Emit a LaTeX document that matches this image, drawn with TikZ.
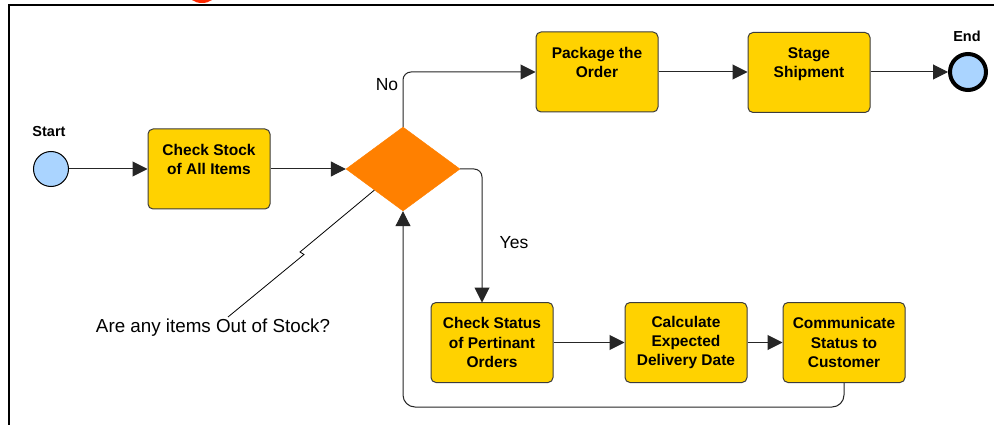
\documentclass[tikz,border=0pt]{standalone}
\usepackage{fontspec}
\setmainfont{Liberation Sans}
\usetikzlibrary{shapes.geometric,arrows.meta}
\definecolor{boxfill}{RGB}{255,210,0}
\definecolor{diafill}{RGB}{255,128,0}
\definecolor{evfill}{RGB}{170,212,255}
\definecolor{boxline}{RGB}{60,60,60}
\definecolor{topred}{RGB}{255,40,0}
\begin{document}
\begin{tikzpicture}[x=1pt,y=-1pt,
  task/.style={draw=boxline, line width=1pt, fill=boxfill, rounded corners=5pt,
    minimum width=122pt, minimum height=80pt, align=center, inner sep=0pt,
    font=\fontsize{15.5}{19.3}\selectfont\bfseries},
  event/.style={circle, draw=black, fill=evfill, inner sep=0pt},
  arr/.style={-{Triangle[length=15pt,width=15pt]}, line width=1pt, draw=black!85},
  lbl/.style={font=\fontsize{17.5}{20}\selectfont},
  evlbl/.style={font=\fontsize{14.5}{17}\selectfont\bfseries},
  frame/.style={line width=2pt, draw=black}
]
\useasboundingbox (0,0) rectangle (994,425);
\clip (0,0) rectangle (994,425);
\fill[white] (0,0) rectangle (994,425);
% frame and red mark
\fill[topred] (202,-7) ellipse [x radius=14, y radius=10];
\draw[frame] (8,5.5) -- (994,5.5);
\draw[frame] (9,4.5) -- (9,425);

% events
\node[event, line width=1pt, minimum size=35pt] (start) at (51,169) {};
\node[evlbl] (startlbl) at (49,132) {Start};
\node[event, line width=4pt, minimum size=36pt] (end) at (968,72) {};
\node[evlbl] (endlbl) at (967,36) {End};

% tasks
\node[task] (ck) at (209,169) {Check Stock\\of All Items\\\mbox{}};
\node[task] (pk) at (597,72) {Package the\\Order\\\mbox{}};
\node[task] (sh) at (809,72.5) {Stage\\Shipment\\\mbox{}};
\node[task] (cs) at (492,342.5) {Check Status\\of Pertinant\\Orders};
\node[task] (cd) at (686,342.5) {Calculate\\Expected\\Delivery Date};
\node[task] (cm) at (844,342.5) {Communicate\\Status to\\Customer};

% gateway
\node[diamond, fill=diafill, draw=diafill, minimum width=114pt, minimum height=84pt, inner sep=0pt] (dia) at (403,169) {};

% labels
\node[lbl] (nolbl) at (387,85) {No};
\node[lbl] (yeslbl) at (514,243) {Yes};
\node[font=\fontsize{18.8}{22}\selectfont] (question) at (213,328) {Are any items Out of Stock?};

% connectors
\draw[arr] (start) -- (ck);
\draw[arr] (ck) -- (dia.west);
\draw[arr, rounded corners=8pt] (dia.north) |- (pk.west);
\draw[arr] (pk.east) -- (sh.west |- pk.east);
\draw[arr] (sh.east |- pk.east) -- (end.west);
\coordinate (yesdown) at (482,302.5);
\draw[arr, rounded corners=8pt] (dia.east) -| (yesdown);
\draw[arr] (cs.east) -- (cd.west);
\draw[arr] (cd.east) -- (cm.west);
\draw[arr, rounded corners=12pt] (cm.south) -- ++(0,24) -| (dia.south);

% annotation
\draw[line width=0.8pt] (dia.south west) -- (300,252) -- (304,254.5) -- (228,317);
\end{tikzpicture}
\end{document}
